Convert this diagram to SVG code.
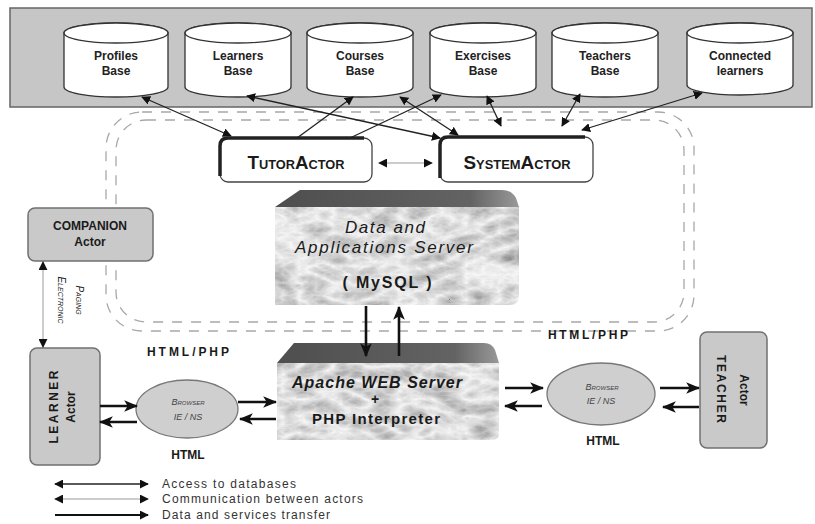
<svg xmlns="http://www.w3.org/2000/svg" width="815" height="524" viewBox="0 0 815 524">
<style>
text{font-family:"Liberation Sans",Arial,sans-serif;fill:#1a1a1a}
.db{fill:#fff;stroke:#333;stroke-width:1.3}
.dbt{font-size:12px;font-weight:bold;text-anchor:middle;fill:#222}
.act{font-size:19px;font-weight:bold;font-variant:small-caps;text-anchor:middle}
.gbox{fill:#c9c9c9;stroke:#707070;stroke-width:1.5}
.lbl{font-size:12px;font-weight:bold;text-anchor:middle}
.brw{font-size:9px;font-style:italic;text-anchor:middle;fill:#444}
.conn{stroke:#222;stroke-width:1.3;fill:none}
.comm{stroke:#999;stroke-width:1;fill:none}
.data{stroke:#111;stroke-width:2.6;fill:none}
.leg{font-size:12px;fill:#333}
.dash{fill:none;stroke:#a8a8a8;stroke-width:1.3;stroke-dasharray:10 9}
</style>
<defs>
<marker id="ah" viewBox="0 0 10 10" refX="9" refY="5" markerWidth="9" markerHeight="9" markerUnits="userSpaceOnUse" orient="auto-start-reverse"><path d="M0,0 L10,5 L0,10 z" fill="#111"/></marker>
<marker id="big" viewBox="0 0 12 10" refX="11" refY="5" markerWidth="14" markerHeight="12" markerUnits="userSpaceOnUse" orient="auto"><path d="M0,0 L12,5 L0,10 L3,5 z" fill="#111"/></marker>
<linearGradient id="topg" x1="0" y1="0" x2="1" y2="0"><stop offset="0" stop-color="#4e4e4e"/><stop offset="0.8" stop-color="#636363"/><stop offset="1" stop-color="#999"/></linearGradient>
<filter id="marble" x="0" y="0" width="100%" height="100%">
<feTurbulence type="turbulence" baseFrequency="0.03 0.06" numOctaves="4" seed="7" result="n"/>
<feColorMatrix in="n" type="matrix" values="-0.8 0 0 0 0.95  -0.8 0 0 0 0.95  -0.8 0 0 0 0.95  0 0 0 0 1" result="g"/>
<feComposite in="g" in2="SourceGraphic" operator="in"/>
</filter>
</defs>
<rect width="815" height="524" fill="#fff"/>

<g id="db-band"><rect x="10" y="8" width="802" height="99" fill="#c6c6c6" stroke="#666" stroke-width="1.5"/></g>

<g id="profiles-base">
<path class="db" d="M64,33 A52,10 0 0 1 168,33 V87 A52,10 0 0 1 64,87 Z"/><ellipse class="db" cx="116" cy="33" rx="52" ry="10"/>
<text class="dbt" x="116" y="60">Profiles</text><text class="dbt" x="116" y="75">Base</text></g>
<g id="learners-base">
<path class="db" d="M185,33 A53,10 0 0 1 291,33 V87 A53,10 0 0 1 185,87 Z"/><ellipse class="db" cx="238" cy="33" rx="53" ry="10"/>
<text class="dbt" x="238" y="60">Learners</text><text class="dbt" x="238" y="75">Base</text></g>
<g id="courses-base">
<path class="db" d="M307,33 A53,10 0 0 1 413,33 V87 A53,10 0 0 1 307,87 Z"/><ellipse class="db" cx="360" cy="33" rx="53" ry="10"/>
<text class="dbt" x="360" y="60">Courses</text><text class="dbt" x="360" y="75">Base</text></g>
<g id="exercises-base">
<path class="db" d="M430,33 A53,10 0 0 1 536,33 V87 A53,10 0 0 1 430,87 Z"/><ellipse class="db" cx="483" cy="33" rx="53" ry="10"/>
<text class="dbt" x="483" y="60">Exercises</text><text class="dbt" x="483" y="75">Base</text></g>
<g id="teachers-base">
<path class="db" d="M552,33 A53,10 0 0 1 658,33 V87 A53,10 0 0 1 552,87 Z"/><ellipse class="db" cx="605" cy="33" rx="53" ry="10"/>
<text class="dbt" x="605" y="60">Teachers</text><text class="dbt" x="605" y="75">Base</text></g>
<g id="connected-learners">
<path class="db" d="M687,33 A53,10 0 0 1 793,33 V85 A53,10 0 0 1 687,85 Z"/><ellipse class="db" cx="740" cy="33" rx="53" ry="10"/>
<text class="dbt" x="740" y="60">Connected</text><text class="dbt" x="740" y="75">learners</text></g>

<g id="server-zone">
<rect class="dash" x="106" y="112" width="588" height="219" rx="36"/>
<rect class="dash" x="116" y="120" width="568" height="202" rx="30"/>
</g>

<g id="tutor-actor">
<rect x="220" y="138" width="152" height="44" rx="8" fill="#fff" stroke="#444" stroke-width="1.3"/>
<path d="M220,176 V146 Q220,138 228,138 H364" fill="none" stroke="#222" stroke-width="3.5"/>
<text class="act" x="296" y="169" textLength="97" lengthAdjust="spacingAndGlyphs">TutorActor</text>
</g>
<g id="system-actor">
<rect x="440" y="137" width="153" height="45" rx="8" fill="#fff" stroke="#444" stroke-width="1.3"/>
<path d="M440,178 V145 Q440,137 448,137 H585" fill="none" stroke="#222" stroke-width="3.5"/>
<text class="act" x="517" y="169" textLength="107" lengthAdjust="spacingAndGlyphs">SystemActor</text>
</g>

<g id="data-server">
<path d="M300,190 H502 Q512,190 516,198 L519,207 H275 Z" fill="url(#topg)"/>
<path d="M275,207 H519 V296 Q519,305 510,305 H275 Z" fill="#ddd" filter="url(#marble)"/>
<text x="385" y="233" font-size="17" font-style="italic" text-anchor="middle" textLength="80">Data and</text>
<text x="384" y="253" font-size="17" font-style="italic" text-anchor="middle" textLength="178">Applications Server</text>
<text x="387" y="288" font-size="16" font-weight="bold" text-anchor="middle" textLength="89">( MySQL )</text>
</g>

<g id="web-server">
<path d="M294,343 H484 Q492,343 495,350 L499,363 H277 Z" fill="url(#topg)"/>
<path d="M277,363 H499 V433 Q499,440 492,440 H277 Z" fill="#ddd" filter="url(#marble)"/>
<text x="377" y="388" font-size="16" font-style="italic" font-weight="bold" text-anchor="middle" textLength="170">Apache WEB Server</text>
<text x="375" y="404" font-size="14" font-weight="bold" text-anchor="middle">+</text>
<text x="376" y="424" font-size="15" font-weight="bold" text-anchor="middle" textLength="128">PHP Interpreter</text>
</g>

<g id="companion-actor">
<rect class="gbox" x="28" y="208" width="125" height="53" rx="7"/>
<text class="lbl" x="90" y="230">COMPANION</text>
<text class="lbl" x="90" y="246">Actor</text>
</g>

<g id="learner-actor">
<rect class="gbox" x="30" y="348" width="70" height="117" rx="7"/>
<text class="lbl" transform="translate(58,407) rotate(-90)" font-size="13" textLength="73">LEARNER</text>
<text class="lbl" transform="translate(75,407) rotate(-90)" font-size="13">Actor</text>
</g>

<g id="teacher-actor">
<rect class="gbox" x="700" y="332" width="67" height="116" rx="7"/>
<text class="lbl" transform="translate(717,389) rotate(90)" font-size="13" textLength="68">TEACHER</text>
<text class="lbl" transform="translate(740,390) rotate(90)" font-size="13">Actor</text>
</g>

<g id="browser-left">
<ellipse cx="187" cy="409" rx="51" ry="29" fill="#cfcfcf" stroke="#777" stroke-width="1.3"/>
<text class="brw" x="188" y="405" font-variant="small-caps">Browser</text>
<text class="brw" x="188" y="420">IE / NS</text>
</g>
<g id="browser-right">
<ellipse cx="601" cy="394" rx="54" ry="31" fill="#cfcfcf" stroke="#777" stroke-width="1.3"/>
<text class="brw" x="602" y="390" font-variant="small-caps">Browser</text>
<text class="brw" x="601" y="404">IE / NS</text>
</g>

<g id="labels">
<text class="lbl" x="188" y="356" textLength="82">HTML/PHP</text>
<text class="lbl" x="188" y="459">HTML</text>
<text class="lbl" x="588" y="339" textLength="80">HTML/PHP</text>
<text class="lbl" x="603" y="445">HTML</text>
<text transform="translate(58,300) rotate(90)" font-size="10" font-style="italic" font-variant="small-caps" text-anchor="middle" fill="#333">Electronic</text>
<text transform="translate(76,300) rotate(90)" font-size="10" font-style="italic" font-variant="small-caps" text-anchor="middle" fill="#333">Paging</text>
</g>

<g id="connectors">
<line class="conn" x1="142" y1="97" x2="231" y2="136" marker-start="url(#ah)" marker-end="url(#ah)"/>
<line class="conn" x1="247" y1="96" x2="440" y2="138" marker-start="url(#ah)" marker-end="url(#ah)"/>
<line class="conn" x1="353" y1="97" x2="297" y2="138" marker-start="url(#ah)"/>
<line class="conn" x1="400" y1="97" x2="458" y2="135" marker-start="url(#ah)" marker-end="url(#ah)"/>
<line class="conn" x1="441" y1="95" x2="350" y2="138" marker-start="url(#ah)"/>
<line class="conn" x1="487" y1="96" x2="501" y2="126" marker-start="url(#ah)" marker-end="url(#ah)"/>
<line class="conn" x1="580" y1="94" x2="562" y2="126" marker-start="url(#ah)" marker-end="url(#ah)"/>
<line class="conn" x1="702" y1="93" x2="582" y2="130" marker-start="url(#ah)" marker-end="url(#ah)"/>
<line class="comm" x1="379" y1="163" x2="432" y2="163" marker-start="url(#ah)" marker-end="url(#ah)"/>
<line class="comm" x1="43" y1="262" x2="43" y2="347" marker-start="url(#ah)" marker-end="url(#ah)"/>
<line class="data" x1="366" y1="306" x2="366" y2="356" marker-end="url(#big)"/>
<line class="data" x1="399" y1="356" x2="399" y2="307" marker-end="url(#big)"/>
<line class="data" x1="100" y1="406" x2="137" y2="406" marker-end="url(#big)"/>
<line class="data" x1="137" y1="422" x2="100" y2="422" marker-end="url(#big)"/>
<line class="data" x1="238" y1="402" x2="276" y2="402" marker-end="url(#big)"/>
<line class="data" x1="276" y1="419" x2="240" y2="419" marker-end="url(#big)"/>
<line class="data" x1="505" y1="388" x2="543" y2="388" marker-end="url(#big)"/>
<line class="data" x1="542" y1="406" x2="505" y2="406" marker-end="url(#big)"/>
<line class="data" x1="660" y1="388" x2="699" y2="388" marker-end="url(#big)"/>
<line class="data" x1="699" y1="407" x2="663" y2="407" marker-end="url(#big)"/>
</g>

<g id="legend">
<line class="conn" x1="55" y1="484" x2="148" y2="484" marker-start="url(#ah)" marker-end="url(#ah)"/>
<line class="comm" x1="55" y1="499" x2="148" y2="499" marker-start="url(#ah)" marker-end="url(#ah)"/>
<line x1="55" y1="515" x2="148" y2="515" stroke="#111" stroke-width="1.8" marker-end="url(#ah)"/>
<text class="leg" x="162" y="488" textLength="134">Access to databases</text>
<text class="leg" x="162" y="503" textLength="201">Communication between actors</text>
<text class="leg" x="162" y="519" textLength="168">Data and services transfer</text>
</g>
</svg>
